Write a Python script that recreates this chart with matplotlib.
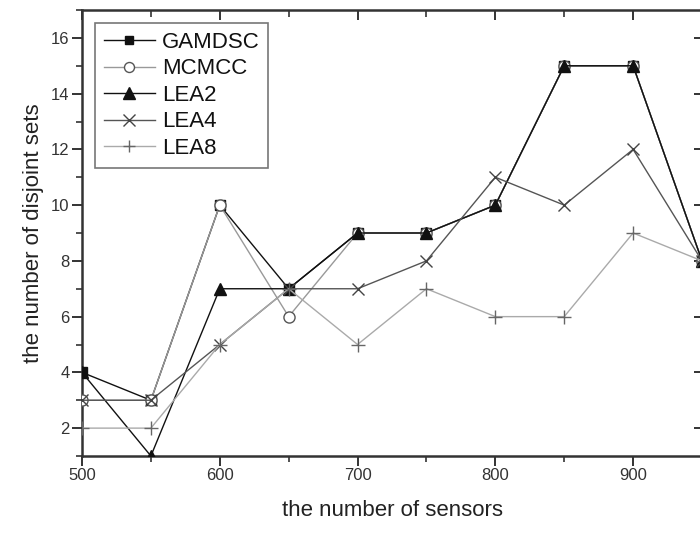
import matplotlib
matplotlib.use("Agg")
import matplotlib.pyplot as plt
from matplotlib.ticker import MultipleLocator
from matplotlib import lines as mlines

plt.rcParams['font.family'] = ['Liberation Sans', 'DejaVu Sans']

sensors = [500, 550, 600, 650, 700, 750, 800, 850, 900, 950]
gamdsc = [4, 3, 10, 7, 9, 9, 10, 15, 15, 8]
mcmcc = [3, 3, 10, 6, 9, 9, 10, 15, 15, 8]
lea2 = [4, 1, 7, 7, 9, 9, 10, 15, 15, 8]
lea4 = [3, 3, 5, 7, 7, 8, 11, 10, 12, 8]
lea8 = [2, 2, 5, 7, 5, 7, 6, 6, 9, 8]

x_ticks = [500, 600, 700, 800, 900]
y_ticks = [2, 4, 6, 8, 10, 12, 14, 16]

fig = plt.figure(figsize=(7.0, 5.47), dpi=100)
L, R, T, B = 82, 702, 10, 456
W, H = 700.0, 547.0
ax = fig.add_axes([L / W, 1 - B / H, (R - L) / W, (B - T) / H])

ax.plot(sensors, gamdsc, color='#111111', lw=1.0, marker='s', ms=7,
        mfc='#111111', mec='#111111', label='GAMDSC', zorder=3)
ax.plot(sensors, mcmcc, color='#999999', lw=1.0, marker='o', ms=8,
        mfc='white', mec='#555555', mew=1.0, label='MCMCC', zorder=4)
ax.plot(sensors, lea2, color='#111111', lw=1.0, marker='^', ms=9,
        mfc='#111111', mec='#111111', label='LEA2', zorder=5)
ax.plot(sensors, lea4, color='#555555', lw=1.0, marker='x', ms=9,
        mec='#444444', mew=1.0, label='LEA4', zorder=6)
ax.plot(sensors, lea8, color='#aaaaaa', lw=1.0, marker='+', ms=10,
        mec='#666666', mew=1.0, label='LEA8', zorder=7)

ax.set_xlim(500, 950)
ax.set_ylim(1, 17)
ax.set_xticks(x_ticks)
ax.set_yticks(y_ticks)
ax.xaxis.set_minor_locator(MultipleLocator(50))
ax.yaxis.set_minor_locator(MultipleLocator(1))

for s in ax.spines.values():
    s.set_linewidth(1.8)
    s.set_color('#333333')

ax.tick_params(axis='both', which='major', direction='out', length=7, width=1.4,
               color='#333333', labelsize=12, labelcolor='#333333', pad=2)
ax.tick_params(axis='both', which='minor', direction='out', length=4, width=1.2,
               color='#333333')
ax.tick_params(axis='x', which='both', top=True, labeltop=False)
ax.tick_params(axis='y', which='major', right=True, labelright=False)
ax.tick_params(axis='y', which='minor', right=False)
for t in ax.xaxis.get_major_ticks():
    t.tick2line.set_marker(mlines.TICKDOWN)
    t.tick2line.set_markersize(7)
for t in ax.xaxis.get_minor_ticks():
    t.tick2line.set_marker(mlines.TICKDOWN)
    t.tick2line.set_markersize(5)
for t in ax.yaxis.get_major_ticks():
    t.tick2line.set_marker(mlines.TICKLEFT)
    t.tick2line.set_markersize(6)

ax.set_xlabel('the number of sensors', fontsize=16, color='#222222', labelpad=12)
ax.set_ylabel('the number of disjoint sets', fontsize=16, color='#222222', labelpad=5)

leg = ax.legend(loc='upper left', bbox_to_anchor=(0.021, 0.971), fontsize=16,
                frameon=True, fancybox=False, handlelength=2.3,
                handletextpad=0.3, labelspacing=0.25, borderpad=0.4,
                borderaxespad=0.0, markerscale=0.9)
leg.get_frame().set_edgecolor('#555555')
leg.get_frame().set_linewidth(1.2)
for txt in leg.get_texts():
    txt.set_color('#111111')

fig.savefig('out.png', dpi=100)
